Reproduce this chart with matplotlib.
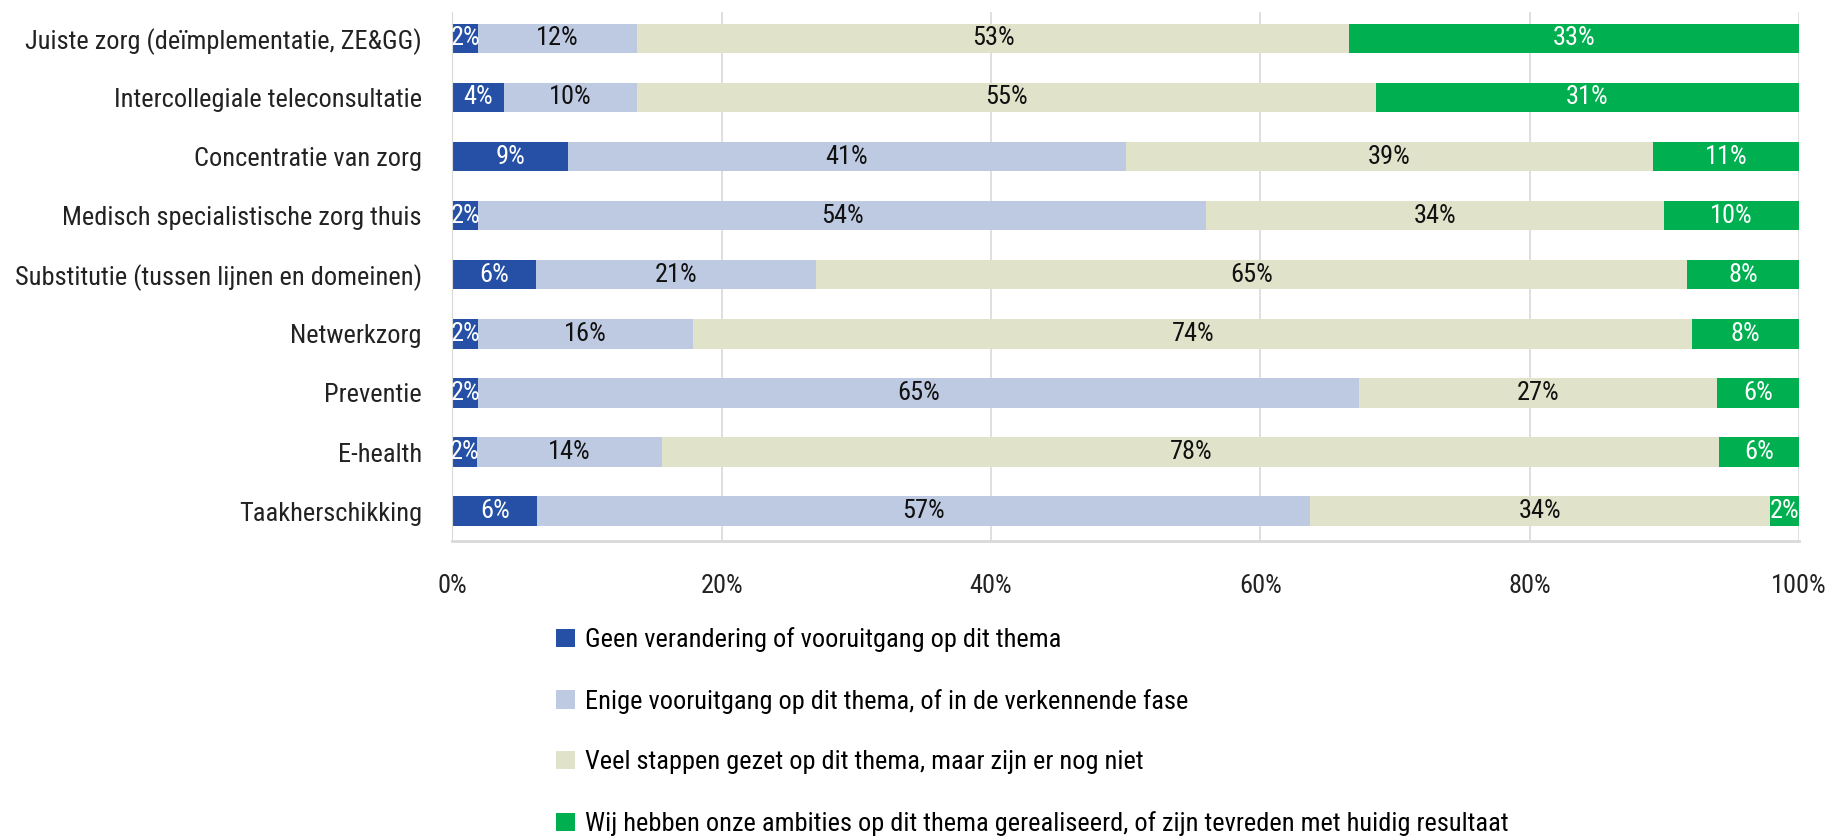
import numpy as np
import matplotlib.pyplot as plt
from matplotlib import font_manager

# ── data ────────────────────────────────────────────────────────────────────
categories = [
    "Juiste zorg (deïmplementatie, ZE&GG)",
    "Intercollegiale teleconsultatie",
    "Concentratie van zorg",
    "Medisch specialistische zorg thuis",
    "Substitutie (tussen lijnen en domeinen)",
    "Netwerkzorg",
    "Preventie",
    "E-health",
    "Taakherschikking",
]
geen    = [1.9, 3.8, 8.6, 1.9, 6.2, 1.9, 1.9, 1.8, 6.3]
enige   = [11.8, 9.9, 41.4, 54.1, 20.8, 16.0, 65.4, 13.8, 57.4]
veel    = [52.9, 54.9, 39.2, 34.0, 64.7, 74.2, 26.6, 78.5, 34.2]
bereikt = [33.4, 31.4, 10.8, 10.0, 8.3, 7.9, 6.1, 5.9, 2.1]

series_labels = [
    "Geen verandering of vooruitgang op dit thema",
    "Enige vooruitgang op dit thema, of in de verkennende fase",
    "Veel stappen gezet op dit thema, maar zijn er nog niet",
    "Wij hebben onze ambities op dit thema gerealiseerd, of zijn tevreden met huidig resultaat",
]
xticks = [0, 20, 40, 60, 80, 100]

# ── style ───────────────────────────────────────────────────────────────────
colors      = ['#2550A5', '#BECAE2', '#E0E3CA', '#00B050']
text_colors = ['white', '#111111', '#111111', 'white']

installed = {f.name for f in font_manager.fontManager.ttflist}
for fam in ['Liberation Sans Narrow', 'Roboto Condensed', 'Open Sans Condensed', 'Liberation Sans']:
    if fam in installed:
        plt.rcParams['font.family'] = fam
        break

FS = 19

fig = plt.figure(figsize=(18.43, 8.39), dpi=100)
ax = fig.add_axes([0.2455, 0.3556, 0.7305, 0.6304])

y = np.arange(len(categories))
left = np.zeros(len(categories))
handles = []
for vals, col, tcol, lab in zip([geen, enige, veel, bereikt], colors, text_colors, series_labels):
    vals = np.array(vals)
    bars = ax.barh(y, vals, left=left, height=0.5, color=col, label=lab, zorder=2)
    handles.append(bars)
    for yi, l, v in zip(y, left, vals):
        ax.text(l + v / 2, yi, f"{v:.0f}%", ha='center', va='center',
                color=tcol, fontsize=FS, zorder=3)
    left += vals

ax.set_xlim(0, 100)
ax.set_ylim(len(categories) - 0.5, -0.45)
ax.set_yticks(y)
ax.set_yticklabels(categories, fontsize=FS, color='#222222')
ax.set_xticks(xticks)
ax.set_xticklabels([f"{t}%" for t in xticks], fontsize=FS, color='#222222')
ax.tick_params(axis='both', length=0)
ax.tick_params(axis='x', pad=24)
ax.tick_params(axis='y', pad=22)

ax.grid(axis='x', color='#D9D9D9', lw=1.2, zorder=0)
for s in ['top', 'right']:
    ax.spines[s].set_visible(False)
ax.spines['left'].set_color('#D9D9D9')
ax.spines['bottom'].set_color('#D9D9D9')
ax.spines['bottom'].set_linewidth(2)

fig.legend(handles=handles, labels=series_labels, loc='upper left',
           bbox_to_anchor=(0.296, 0.265), ncol=1, frameon=False,
           fontsize=FS, handlelength=0.7, handleheight=0.7,
           handletextpad=0.4, labelspacing=1.39, borderaxespad=0)

fig.savefig('out.png', dpi=100)
